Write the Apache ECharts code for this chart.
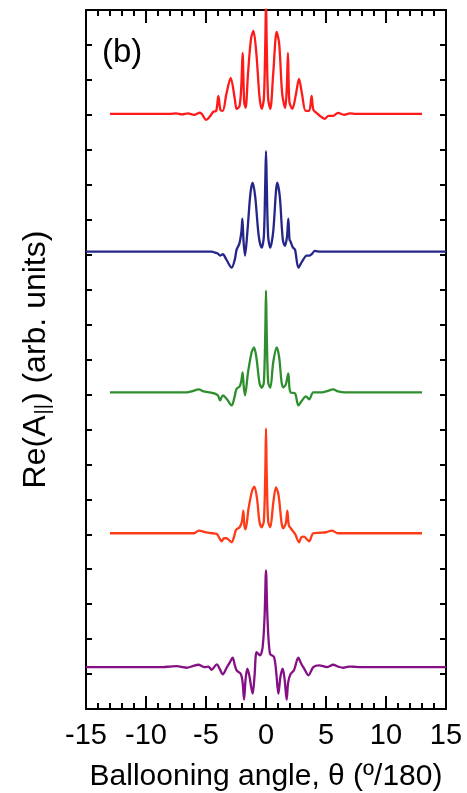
<!DOCTYPE html>
<html>
<head>
<meta charset="utf-8">
<script src="https://cdn.jsdelivr.net/npm/echarts@6/dist/echarts.min.js"></script>
<style>
html,body{margin:0;padding:0;background:#fff;}
#chart{width:467px;height:793px;}
</style>
</head>
<body>
<div id="chart"></div>
<script>
// x tick labels
const xTicks = [-15, -10, -5, 0, 5, 10, 15];
// vertical offsets (baselines) of each curve, in axis units
const offsets = [596, 458, 317, 176, 42];
const colors = ['#ff1a1a', '#25258a', '#2f8f2f', '#ff3a17', '#851085'];

// [theta, Re(A||) displacement] for each curve (top to bottom)
const curveRedTop = [[-13,0],[-8,0],[-7.5,0.5],[-7,-0.5],[-6.5,0.5],[-6,-1],[-5.5,1.3],[-5.3,-1],[-5.0,-6],[-4.7,-3],[-4.4,2],[-4.15,3],[-3.97,18],[-3.8,4],[-3.6,3],[-3.3,20],[-2.94,36],[-2.6,15],[-2.45,5],[-2.2,8],[-2.05,30],[-1.95,61],[-1.82,12],[-1.7,6],[-1.5,40],[-1.25,75],[-1.05,83],[-0.8,60],[-0.55,18],[-0.36,5],[-0.18,15],[-0.06,70],[0,115],[0.06,70],[0.18,15],[0.36,5],[0.6,40],[0.89,82],[1.1,70],[1.35,20],[1.6,6],[1.73,25],[1.83,61],[1.95,12],[2.2,5],[2.5,20],[2.75,35],[3.0,20],[3.3,3],[3.6,3],[3.8,18],[3.95,4],[4.3,0],[4.6,-3],[4.9,-5],[5.2,-2],[5.6,-2],[6.0,1],[6.5,-1],[7,0.5],[7.5,0],[13,0]];
const curveBlue = [[-15,0],[-4.5,0],[-4.25,-1],[-4.0,-2],[-3.83,-4],[-3.6,-2.6],[-3.3,-8],[-2.86,-16],[-2.6,-8],[-2.45,2],[-2.22,8],[-2.05,20],[-1.97,33],[-1.87,10],[-1.75,-4],[-1.55,20],[-1.3,58],[-1.11,69],[-0.9,55],[-0.6,15],[-0.36,4],[-0.18,15],[-0.06,70],[0,100.7],[0.06,70],[0.18,15],[0.36,4],[0.6,20],[0.94,69],[1.15,55],[1.4,12],[1.58,5.7],[1.75,15],[1.86,33],[1.96,12],[2.05,10],[2.25,4],[2.42,2],[2.7,-16],[3.0,-10],[3.39,-4],[3.6,-4],[3.8,-2.6],[4.08,0.7],[4.5,0],[15,0]];
const curveGreen = [[-13,0],[-6.6,0],[-6.2,1],[-5.6,3],[-5.2,1],[-4.67,0],[-4.3,-1],[-4.0,-3],[-3.83,-8],[-3.6,-3],[-3.3,-6],[-2.86,-13],[-2.65,-6],[-2.45,3.7],[-2.2,6],[-2.05,12],[-1.95,20],[-1.85,5],[-1.75,-3],[-1.5,20],[-1.2,40],[-1.0,45],[-0.8,35],[-0.55,10],[-0.36,4.7],[-0.18,10],[-0.06,60],[0,102],[0.06,60],[0.18,10],[0.36,4.7],[0.6,30],[0.89,45],[1.1,35],[1.3,10],[1.44,5],[1.65,8],[1.86,19],[1.95,5],[2.05,0],[2.42,-1],[2.7,-13],[3.0,-8],[3.33,-4],[3.6,-7],[3.94,0],[4.5,0],[5.0,1],[5.6,3],[6.0,1],[6.6,0],[13,0]];
const curveRed = [[-13,0],[-6.0,0],[-5.6,2.7],[-5.0,1],[-4.5,0],[-4.1,-0.7],[-3.7,-8],[-3.5,-5],[-3.3,-5],[-2.86,-9],[-2.65,-3],[-2.5,3.3],[-2.2,6],[-2.0,12],[-1.89,22.7],[-1.8,8],[-1.7,4],[-1.45,25],[-1.15,43],[-0.97,46.7],[-0.75,35],[-0.55,12],[-0.36,6],[-0.18,12],[-0.06,60],[0,105],[0.06,60],[0.18,12],[0.36,6],[0.6,30],[0.83,46],[1.05,38],[1.3,10],[1.44,5],[1.65,10],[1.78,22.7],[1.9,8],[2.06,5],[2.42,-0.7],[2.75,-9],[2.95,-4],[3.17,-3.3],[3.4,-6],[3.6,-8],[3.94,0],[4.5,0.5],[5.0,1],[5.47,2.7],[6.0,0],[13,0]];
const curvePurple = [[-15,0],[-8.6,0],[-8.0,0.5],[-7.4,1],[-7.0,0],[-6.6,-0.7],[-6.1,1],[-5.64,2.3],[-5.1,0],[-4.8,0.5],[-4.53,-2.7],[-4.1,2.7],[-3.85,-2],[-3.6,-7.3],[-3.28,-0.7],[-3.0,5],[-2.78,9.3],[-2.6,2],[-2.45,-3.3],[-2.11,-6.7],[-1.95,-15],[-1.83,-32.7],[-1.7,-12],[-1.56,-1.7],[-1.4,-8],[-1.11,-26.7],[-0.95,-8],[-0.78,15],[-0.5,11.7],[-0.28,20],[-0.12,50],[0,96.7],[0.12,50],[0.33,13.3],[0.67,10],[0.85,-5],[1.03,-26.7],[1.2,-10],[1.39,-1.7],[1.55,-12],[1.72,-32.7],[1.85,-15],[2.06,-6.7],[2.33,-3.3],[2.69,9.3],[2.95,3],[3.2,-2],[3.53,-8.3],[3.94,0],[4.44,1.7],[5.06,0],[5.6,2.3],[6.0,0.5],[6.44,-0.7],[6.9,0.5],[7.28,0.3],[8,0],[15,0]];

const curves = [curveRedTop, curveBlue, curveGreen, curveRed, curvePurple];
const FONT = '"Liberation Sans", Arial, Helvetica, sans-serif';

const chart = echarts.init(document.getElementById('chart'));

const xAxisBase = {
  type: 'value', min: -15, max: 15, interval: 5,
  axisLine: { show: true, onZero: false, lineStyle: { color: '#000', width: 2 } },
  axisTick: { show: true, inside: true, length: 13, lineStyle: { color: '#000', width: 2 } },
  minorTick: { show: true, splitNumber: 5, length: 6, lineStyle: { color: '#000', width: 2 } },
  splitLine: { show: false }
};
const yAxisBase = {
  type: 'value', min: 0, max: 700, interval: 35,
  axisLine: { show: true, onZero: false, lineStyle: { color: '#000', width: 2 } },
  axisTick: { show: true, inside: true, length: 6, lineStyle: { color: '#000', width: 2 } },
  axisLabel: { show: false },
  splitLine: { show: false }
};

chart.setOption({
  animation: false,
  backgroundColor: '#fff',
  grid: { left: 86, right: 21, top: 10, bottom: 84, containLabel: false, outerBoundsMode: 'none' },
  xAxis: [
    Object.assign({}, xAxisBase, {
      position: 'bottom',
      axisLabel: { show: true, margin: 12, color: '#000', fontSize: 29, fontFamily: FONT,
        formatter: v => xTicks.includes(v) ? String(v) : '' },
      name: 'Ballooning angle, θ (º/180)', nameLocation: 'middle', nameGap: 53,
      nameTextStyle: { color: '#000', fontSize: 30, fontFamily: FONT }
    }),
    Object.assign({}, xAxisBase, { position: 'top', axisLabel: { show: false } })
  ],
  yAxis: [
    Object.assign({}, yAxisBase, {
      position: 'left',
      name: '{n|Re(A}{s|||}{n|) (arb. units)}', nameLocation: 'middle', nameGap: 33,
      nameTextStyle: {
        color: '#000', fontFamily: FONT,
        rich: {
          n: { fontSize: 32, fontFamily: FONT, color: '#000' },
          s: { fontSize: 20, fontFamily: FONT, color: '#000', padding: [14, 1, 0, 1] }
        }
      }
    }),
    Object.assign({}, yAxisBase, { position: 'right' })
  ],
  graphic: [{
    type: 'text', left: 102, top: 36,
    style: { text: '(b)', fontSize: 33, fontFamily: FONT, fill: '#000' }
  }],
  series: curves.map((c, i) => ({
    type: 'line',
    data: c.map(p => [p[0], p[1] + offsets[i]]),
    showSymbol: false,
    smooth: 0.3,
    clip: true,
    lineStyle: { color: colors[i], width: 2.3 },
    z: 1
  }))
});
</script>
</body>
</html>
